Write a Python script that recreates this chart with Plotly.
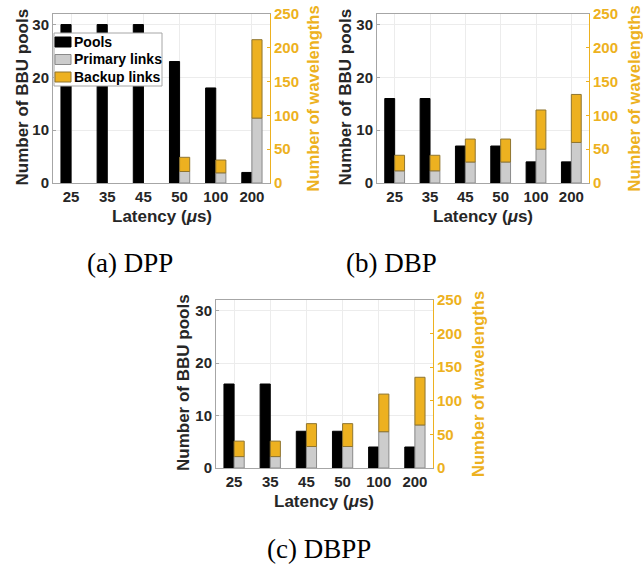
import plotly.graph_objects as go

W, H = 643, 565

latency = ["25", "35", "45", "50", "100", "200"]

dpp_pools = [30, 30, 30, 23, 18, 2]
dpp_primary = [0, 0, 0, 17, 15, 96]
dpp_backup = [0, 0, 0, 21, 19, 116]

dbp_pools = [16, 16, 7, 7, 4, 4]
dbp_primary = [18, 18, 31, 31, 50, 60]
dbp_backup = [23, 23, 34, 34, 58, 71]

dbpp_pools = [16, 16, 7, 7, 4, 4]
dbpp_primary = [17, 17, 32, 32, 54, 64]
dbpp_backup = [23, 23, 34, 34, 56, 71]

left_ticks = [0, 10, 20, 30]
right_ticks = [0, 50, 100, 150, 200, 250]
legend_names = ["Pools", "Primary links", "Backup links"]

YEL = "#EDB120"
GREY = "#cccccc"
FONT = "Liberation Sans"
EDGE = {"Pools": "black", "Primary links": "#8a8a8a", "Backup links": "#8f7530"}
FILL = {"Pools": "black", "Primary links": GREY, "Backup links": YEL}

panels = [
    dict(pools=dpp_pools, prim=dpp_primary, back=dpp_backup, x0=53, x1=270, y0=14, y1=183,
         caption="(a) DPP", capx=129.5, capy=263, lt=22, rt=312),
    dict(pools=dbp_pools, prim=dbp_primary, back=dbp_backup, x0=377, x1=589, y0=14, y1=183,
         caption="(b) DBP", capx=391, capy=263, lt=345, rt=633),
    dict(pools=dbpp_pools, prim=dbpp_primary, back=dbpp_backup, x0=216, x1=433, y0=300, y1=468,
         caption="(c) DBPP", capx=319, capy=549, lt=183, rt=478),
]

fig = go.Figure()
layout = dict(width=W, height=H, margin=dict(l=0, r=0, t=0, b=0, autoexpand=False),
              paper_bgcolor="white", plot_bgcolor="white", barmode="overlay",
              showlegend=False, font=dict(family=FONT, color="#262626"))
annotations = []
shapes = []
BW = 0.28


def px(x):
    return x / W


def py(y):
    return 1 - y / H


def nz(vals):
    # zero-height bars are not drawn in the reference
    return [v if v else None for v in vals]


for i, p in enumerate(panels):
    n = i + 1
    xa = "x" if n == 1 else f"x{n}"
    yl = f"y{2*n-1}" if n > 1 else "y"
    yr = f"y{2*n}"
    xkey = "xaxis" if n == 1 else f"xaxis{n}"
    ylkey = "yaxis" if n == 1 else f"yaxis{2*n-1}"
    yrkey = f"yaxis{2*n}"
    fig.add_trace(go.Bar(x=latency, y=nz(p["pools"]), xaxis=xa, yaxis=yl, name="Pools",
                         width=BW, offset=-BW,
                         marker=dict(color=FILL["Pools"], line=dict(color=EDGE["Pools"], width=1))))
    fig.add_trace(go.Bar(x=latency, y=nz(p["prim"]), xaxis=xa, yaxis=yr, name="Primary links",
                         width=BW, offset=0, base=0,
                         marker=dict(color=FILL["Primary links"], line=dict(color=EDGE["Primary links"], width=1))))
    fig.add_trace(go.Bar(x=latency, y=nz(p["back"]), base=p["prim"], xaxis=xa, yaxis=yr, name="Backup links",
                         width=BW, offset=0,
                         marker=dict(color=FILL["Backup links"], line=dict(color=EDGE["Backup links"], width=1))))
    dom_x = [px(p["x0"]), px(p["x1"])]
    dom_y = [py(p["y1"]), py(p["y0"])]
    layout[xkey] = dict(domain=dom_x, anchor=yl, type="category", categoryorder="array",
                        categoryarray=latency, range=[-0.5, 5.5], automargin=False,
                        showline=True, linecolor="#a6a6a6", linewidth=1, mirror=True,
                        showgrid=True, gridcolor="#ececec", ticks="",
                        tickfont=dict(family=FONT, size=15, weight="bold", color="#262626"))
    layout[ylkey] = dict(domain=dom_y, anchor=xa, range=[0, 32], tickvals=left_ticks, automargin=False,
                         showline=True, linecolor="#a6a6a6", linewidth=1,
                         showgrid=True, gridcolor="#ececec", zeroline=False,
                         ticks="inside", ticklen=3, tickcolor="#a6a6a6",
                         tickfont=dict(family=FONT, size=15, weight="bold", color="#262626"))
    layout[yrkey] = dict(overlaying=yl, side="right", anchor=xa, range=[0, 250], tickvals=right_ticks,
                         automargin=False,
                         showline=True, linecolor=YEL, linewidth=1, showgrid=False, zeroline=False,
                         ticks="inside", ticklen=3, tickcolor=YEL,
                         tickfont=dict(family=FONT, size=15, weight="bold", color=YEL))
    cy = (p["y0"] + p["y1"]) / 2
    annotations.append(dict(text="Number of BBU pools", x=px(p["lt"]), y=py(cy - 1), xref="paper", yref="paper",
                            textangle=-90, showarrow=False, xanchor="center", yanchor="middle",
                            font=dict(family=FONT, size=17, weight="bold", color="#262626")))
    annotations.append(dict(text="Number of wavelengths", x=px(p["rt"]), y=py(cy), xref="paper", yref="paper",
                            textangle=-90, showarrow=False, xanchor="center", yanchor="middle",
                            font=dict(family=FONT, size=16.5, weight="bold", color=YEL)))
    cx = (p["x0"] + p["x1"]) / 2
    annotations.append(dict(text="Latency (<i>μ</i>s)", x=px(cx), y=py(p["y1"] + 33), xref="paper", yref="paper",
                            showarrow=False, xanchor="center", yanchor="middle",
                            font=dict(family=FONT, size=17, weight="bold", color="#262626")))
    annotations.append(dict(text=p["caption"], x=px(p["capx"]), y=py(p["capy"]), xref="paper", yref="paper",
                            showarrow=False, xanchor="center", yanchor="middle",
                            font=dict(family="Liberation Serif", size=27, color="black")))

# legend box (panel a), drawn as shapes + text
shapes.append(dict(type="rect", xref="paper", yref="paper", x0=px(54), x1=px(162), y0=py(86), y1=py(33),
                   fillcolor="white", line=dict(color="#a6a6a6", width=1), layer="above"))
row_y = [42, 59.5, 77]
for name, ry in zip(legend_names, row_y):
    shapes.append(dict(type="rect", xref="paper", yref="paper", x0=px(55), x1=px(71),
                       y0=py(ry + 5), y1=py(ry - 5), fillcolor=FILL[name],
                       line=dict(color=EDGE[name], width=1), layer="above"))
    annotations.append(dict(text=name, x=px(72), y=py(ry), xref="paper", yref="paper",
                            showarrow=False, xanchor="left", yanchor="middle",
                            font=dict(family=FONT, size=14, weight="bold", color="black")))

layout["annotations"] = annotations
layout["shapes"] = shapes
fig.update_layout(**layout)
fig.write_html("out.html", config={"displayModeBar": False},
               post_script="document.body.style.margin='0px';document.body.style.padding='0px';")
